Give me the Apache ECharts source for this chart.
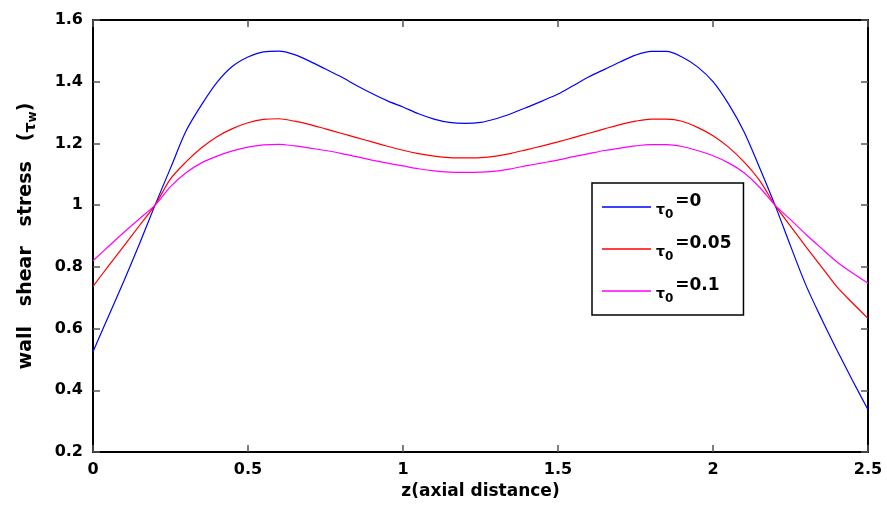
<!DOCTYPE html>
<html>
<head>
<meta charset="utf-8">
<script src="https://cdn.jsdelivr.net/npm/echarts@6/dist/echarts.min.js"></script>
<style>
  html, body { margin: 0; padding: 0; background: #fff; }
  #chart { width: 887px; height: 508px; }
</style>
</head>
<body>
<div id="chart"></div>
<script>
// Axial positions z (step 0.05)
const zValues = [0, 0.05, 0.1, 0.15, 0.2, 0.25, 0.3, 0.35, 0.4, 0.45, 0.5, 0.55, 0.6,
                 0.65, 0.7, 0.75, 0.8, 0.85, 0.9, 0.95, 1.0, 1.05, 1.1, 1.15, 1.2,
                 1.25, 1.3, 1.35, 1.4, 1.45, 1.5, 1.55, 1.6, 1.65, 1.7, 1.75, 1.8,
                 1.85, 1.9, 1.95, 2.0, 2.05, 2.1, 2.15, 2.2, 2.25, 2.3, 2.35, 2.4, 2.45, 2.5];

// Wall shear stress, tau0 = 0
const tauW_0 = [0.525, 0.64, 0.755, 0.875, 1.0, 1.12, 1.24, 1.325, 1.398, 1.45, 1.48, 1.497, 1.499,
                1.488, 1.466, 1.441, 1.416, 1.388, 1.362, 1.338, 1.318, 1.296, 1.279, 1.268, 1.265,
                1.268, 1.28, 1.297, 1.317, 1.338, 1.36, 1.388, 1.416, 1.44, 1.464, 1.486, 1.498,
                1.498, 1.48, 1.448, 1.40, 1.328, 1.238, 1.122, 1.0, 0.868, 0.74, 0.632, 0.53, 0.432, 0.337];
// Wall shear stress, tau0 = 0.05
const tauW_005 = [0.737, 0.803, 0.868, 0.934, 1.0, 1.085, 1.14, 1.186, 1.222, 1.248, 1.267, 1.278, 1.28,
                  1.272, 1.261, 1.247, 1.233, 1.219, 1.205, 1.191, 1.178, 1.167, 1.159, 1.154, 1.153,
                  1.154, 1.159, 1.168, 1.18, 1.192, 1.205, 1.219, 1.233, 1.247, 1.261, 1.272, 1.279,
                  1.279, 1.272, 1.252, 1.225, 1.188, 1.14, 1.08, 1.0, 0.932, 0.865, 0.80, 0.735, 0.683, 0.633];
// Wall shear stress, tau0 = 0.1
const tauW_01 = [0.82, 0.866, 0.912, 0.956, 1.0, 1.06, 1.105, 1.137, 1.159, 1.176, 1.188, 1.195, 1.197,
                 1.192, 1.185, 1.177, 1.168, 1.157, 1.146, 1.136, 1.127, 1.118, 1.111, 1.107, 1.106,
                 1.107, 1.11, 1.118, 1.128, 1.137, 1.146, 1.157, 1.167, 1.177, 1.185, 1.192, 1.196,
                 1.196, 1.19, 1.177, 1.16, 1.137, 1.105, 1.058, 1.0, 0.953, 0.905, 0.86, 0.816, 0.78, 0.747];

const seriesNames = ['τ0=0', 'τ0=0.05', 'τ0=0.1'];
const seriesValues = [tauW_0, tauW_005, tauW_01];
const seriesColors = ['#0000ff', '#ff0000', '#ff00ff'];
const legendLabels = { 'τ0=0': '=0', 'τ0=0.05': '=0.05', 'τ0=0.1': '=0.1' };

const xTicks = { min: 0, max: 2.5, interval: 0.5 };
const yTicks = { min: 0.2, max: 1.6, interval: 0.2 };

const FONT = 'DejaVu Sans, Liberation Sans, Arial, sans-serif';

const chart = echarts.init(document.getElementById('chart'), null, { renderer: 'canvas' });

const tickStyle = { show: true, inside: true, length: 7, lineStyle: { color: '#555', width: 1.5 } };
const lineStyleAxis = { show: true, onZero: false, lineStyle: { color: '#000', width: 2 } };
const labelStyle = { fontFamily: FONT, fontWeight: 'bold', fontSize: 16, color: '#000' };

chart.setOption({
  animation: false,
  backgroundColor: '#fff',
  grid: { left: 93, right: 19, top: 20, bottom: 56, containLabel: false },
  xAxis: [
    {
      type: 'value', position: 'bottom', min: xTicks.min, max: xTicks.max, interval: xTicks.interval,
      axisLine: lineStyleAxis, axisTick: tickStyle, splitLine: { show: false },
      axisLabel: Object.assign({ margin: 10 }, labelStyle),
      name: 'z(axial distance)', nameLocation: 'middle', nameGap: 31,
      nameTextStyle: { fontFamily: FONT, fontWeight: 'bold', fontSize: 17, color: '#000' }
    },
    {
      type: 'value', position: 'top', min: xTicks.min, max: xTicks.max, interval: xTicks.interval,
      axisLine: lineStyleAxis, axisTick: tickStyle, splitLine: { show: false },
      axisLabel: { show: false }
    }
  ],
  yAxis: [
    {
      type: 'value', position: 'left', min: yTicks.min, max: yTicks.max, interval: yTicks.interval,
      axisLine: lineStyleAxis, axisTick: tickStyle, splitLine: { show: false },
      axisLabel: Object.assign({ margin: 10 }, labelStyle),
      name: 'wall   shear   stress   ({t|τ}{w|w})', nameLocation: 'middle', nameGap: 54, nameRotate: 90,
      nameTextStyle: {
        fontFamily: FONT, fontWeight: 'bold', fontSize: 19, color: '#000',
        rich: {
          t: { fontFamily: FONT, fontWeight: 'bold', fontSize: 16, color: '#000', verticalAlign: 'bottom', lineHeight: 25 },
          w: { fontFamily: FONT, fontWeight: 'bold', fontSize: 12, color: '#000', verticalAlign: 'bottom', lineHeight: 25 }
        }
      }
    },
    {
      type: 'value', position: 'right', min: yTicks.min, max: yTicks.max, interval: yTicks.interval,
      axisLine: lineStyleAxis, axisTick: tickStyle, splitLine: { show: false },
      axisLabel: { show: false }
    }
  ],
  legend: {
    orient: 'vertical',
    left: 592, top: 183,
    padding: [10, 12, 10, 10],
    itemGap: 14,
    itemWidth: 49, itemHeight: 1.5,
    icon: 'rect',
    backgroundColor: '#fff',
    borderColor: '#000', borderWidth: 1.5, borderRadius: 0,
    data: seriesNames,
    formatter: name => '{t|τ}{s|0}{e|' + legendLabels[name] + '}',
    textStyle: {
      fontFamily: FONT, fontWeight: 'bold', color: '#000',
      rich: {
        t: { fontFamily: FONT, fontWeight: 'bold', fontSize: 14, color: '#000', verticalAlign: 'bottom', padding: [0, 0, 4, 0] },
        s: { fontFamily: FONT, fontWeight: 'bold', fontSize: 12, color: '#000', verticalAlign: 'bottom' },
        e: { fontFamily: FONT, fontWeight: 'bold', fontSize: 17, color: '#000', verticalAlign: 'top', lineHeight: 28, padding: [0, 0, 0, 2] }
      }
    }
  },
  series: seriesNames.map((name, i) => ({
    name: name,
    type: 'line',
    xAxisIndex: 0, yAxisIndex: 0,
    smooth: 0.3,
    showSymbol: false,
    lineStyle: { color: seriesColors[i], width: 1.2 },
    itemStyle: { color: seriesColors[i] },
    data: zValues.map((z, k) => [z, seriesValues[i][k]])
  }))
});
</script>
</body>
</html>
